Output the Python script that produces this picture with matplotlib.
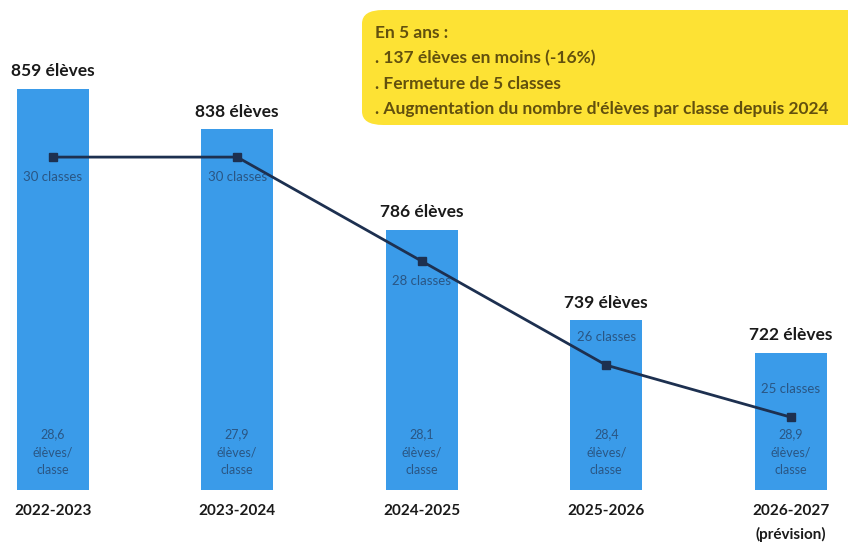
"""
Effectifs et nombre de classes, 2022-2027
"""
import matplotlib.pyplot as plt
from matplotlib.patches import FancyBboxPatch

# Data
years = ["2022-2023", "2023-2024", "2024-2025", "2025-2026", "2026-2027\n(prévision)"]
students = [859, 838, 786, 739, 722]
classes = [30, 30, 28, 26, 25]
per_class = ["28,6", "27,9", "28,1", "28,4", "28,9"]
box_lines = ["En 5 ans :",
             ". 137 élèves en moins (-16%)",
             ". Fermeture de 5 classes",
             ". Augmentation du nombre d'élèves par classe depuis 2024"]

BAR_COLOR = "#3a9be9"
LINE_COLOR = "#1d3050"
INNER_TXT = "#2a5684"
FONT = ["Lato", "DejaVu Sans"]

plt.rcParams['font.family'] = FONT

fig = plt.figure(figsize=(8.48, 5.44), dpi=100)
ax = fig.add_axes([0, 54 / 544, 1, 490 / 544])
ax.set_xlim(-0.285, 4.31)
ax.set_ylim(651, 905)
ax.axis("off")

x = list(range(len(years)))
ax.bar(x, [s - 651 for s in students], bottom=651, width=0.39, color=BAR_COLOR)

for i, s in enumerate(students):
    ax.text(i, s + 5, f"{s} élèves", ha="center", va="bottom",
            fontsize=12.5, fontweight="bold", color="#1a1a1a")
    ax.text(i, 670.5, f"{per_class[i]}\nélèves/\nclasse", ha="center",
            va="center", fontsize=9, color=INNER_TXT, linespacing=1.6)
    ax.text(i, 644, years[i], ha="center", va="top", fontsize=11,
            fontweight="bold", color="#1a1a1a", linespacing=1.75,
            clip_on=False)

# classes on a second scale
ax2 = ax.twinx()
ax2.set_ylim(23.6, 33.02)
ax2.axis("off")
ax2.plot(x, classes, color=LINE_COLOR, lw=2, marker="s", markersize=6)
for i, c in enumerate(classes):
    if i < 3:
        ax2.text(i, c - 0.38, f"{c} classes", ha="center", va="center",
                 fontsize=9.5, color=INNER_TXT)
    else:
        ax2.text(i, c + 0.55, f"{c} classes", ha="center", va="center",
                 fontsize=9.5, color=INNER_TXT)

# yellow summary box
box = FancyBboxPatch((362 / 848, 1 - 125 / 544), 0.6, 115 / 544,
                     boxstyle="round,pad=0,rounding_size=0.025",
                     transform=fig.transFigure, facecolor="#fde234",
                     edgecolor="none", zorder=5)
fig.patches.append(box)
for k, line in enumerate(box_lines):
    fig.text(375 / 848, 1 - (33 + k * 25.3) / 544, line, ha="left",
             va="center", fontsize=12.5, fontweight="bold", color="#62500e",
             zorder=6)

fig.savefig("out.png", dpi=100)
